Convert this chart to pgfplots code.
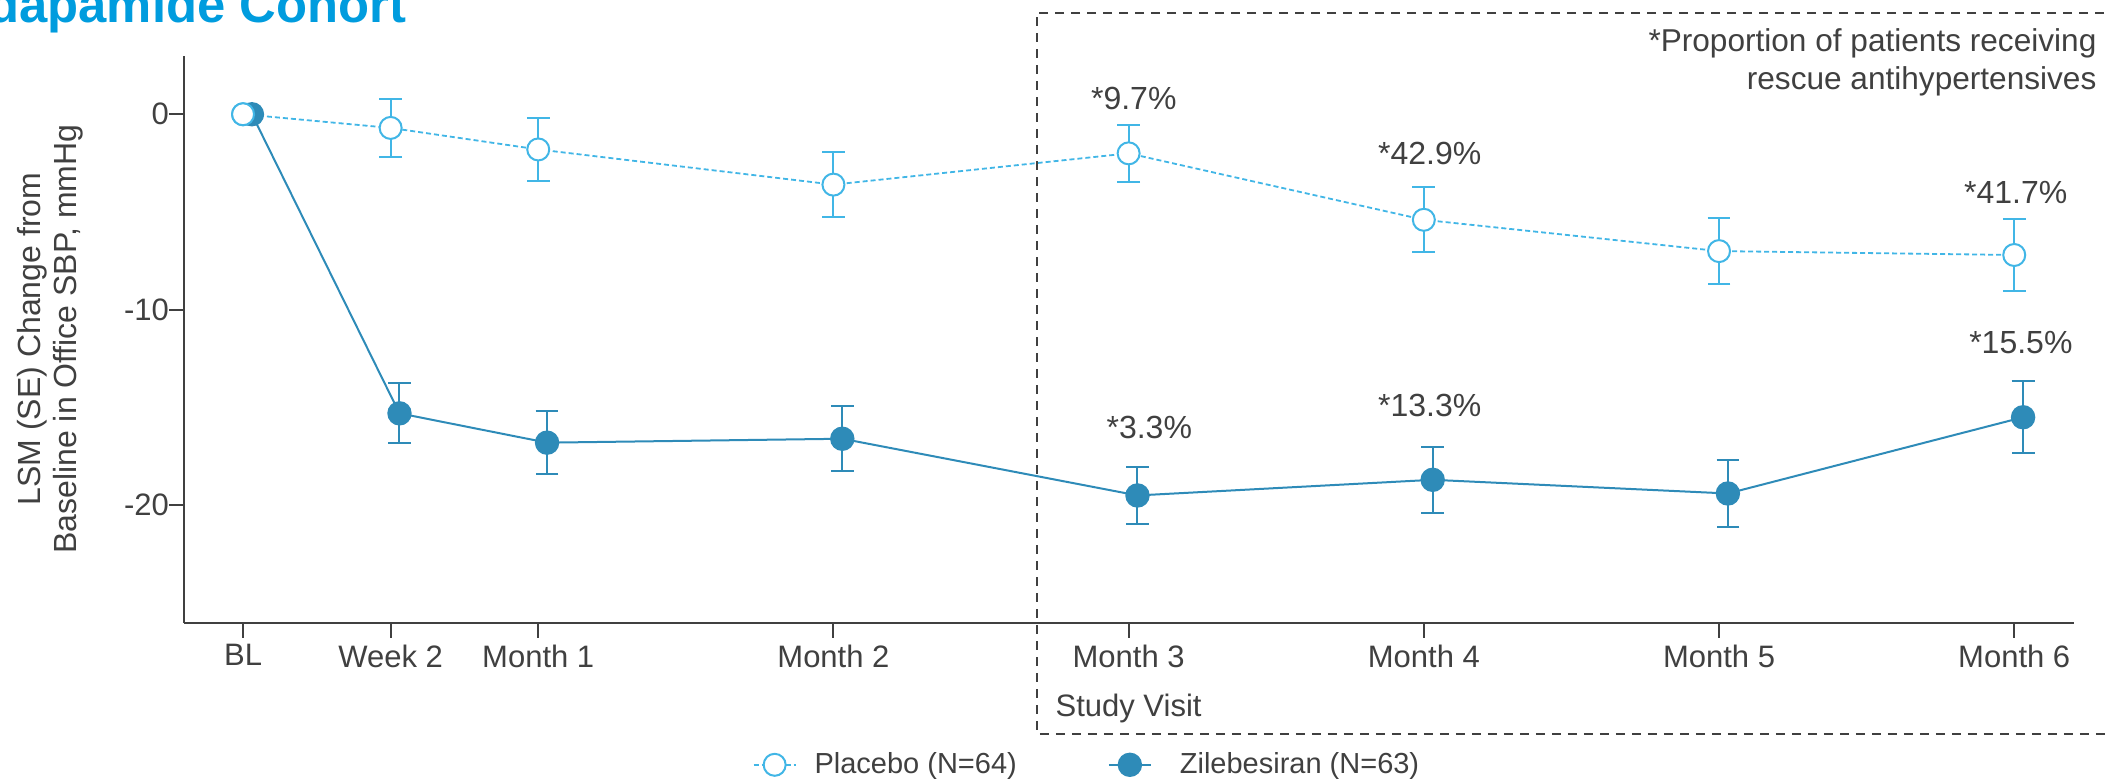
\documentclass[border=0pt]{standalone}
\usepackage{pgfplots}
\pgfplotsset{compat=1.18}
\usepackage{fontspec}
\setmainfont{Liberation Sans}
\definecolor{pbo}{HTML}{41B6E6}
\definecolor{zil}{HTML}{2E8BB8}
\definecolor{ttl}{HTML}{009CDE}
\definecolor{ink}{HTML}{404040}

% LS mean change from baseline (x in weeks), with SE
\pgfplotstableread{
x    y     e
0    0     0
2   -0.7   1.5
4   -1.8   1.6
8   -3.6   1.67
12  -2.0   1.45
16  -5.4   1.67
20  -7.0   1.69
24  -7.2   1.83
}\placebo
\pgfplotstableread{
x     y      e
0.12  0      0
2.12 -15.3   1.54
4.12 -16.8   1.6
8.12 -16.6   1.67
12.12 -19.5  1.45
16.12 -18.7  1.7
20.12 -19.4  1.7
24.12 -15.5  1.84
}\zilebesiran

\begin{document}
\begin{tikzpicture}
\clip (0,0) rectangle (1054pt,391.5pt);
% cohort heading
\node[anchor=base west, inner sep=0pt, text=ttl,
      font=\bfseries\fontsize{25.4}{30}\selectfont] at (-28.6pt,380.3pt) {Indapamide Cohort};
\begin{axis}[
  at={(92pt,80.25pt)}, anchor=south west,
  scale only axis, width=945pt, height=283.45pt,
  xmin=-0.8, xmax=24.81, ymin=-26, ymax=3,
  axis lines*=left,
  axis line style={ink, line width=1pt},
  tick style={ink, line width=1pt},
  tick align=outside, major tick length=7.5pt,
  xtick={0,2,4,8,12,16,20,24},
  xticklabels={BL,Week 2,Month 1,Month 2,Month 3,Month 4,Month 5,Month 6},
  ytick={-20,-10,0}, yticklabels={-20,-10,0},
  ticklabel style={text=ink, font=\fontsize{15.5}{18}\selectfont},
  yticklabel style={xshift=3.5pt},
  ylabel={LSM (SE) Change from\\Baseline in Office SBP, mmHg},
  ylabel style={align=center, text=ink, font=\fontsize{16}{18}\selectfont,
    at={(axis description cs:-0.053,0.5)}, anchor=south, inner sep=0pt},
  clip=false,
  legend style={at={(axis description cs:0.4783,-0.251)}, anchor=center,
    draw=none, fill=none, text=ink, font=\fontsize{14.5}{17}\selectfont,
    /tikz/every odd column/.append style={column sep=7pt},
    /tikz/every even column/.append style={column sep=43.5pt}},
  legend columns=2,
  legend image code/.code={\draw[mark repeat=2,mark phase=2]
    plot coordinates {(0pt,0pt)(10.5pt,0pt)(21pt,0pt)};},
]
\addplot[pbo, line width=0.9pt, dash pattern=on 2.5pt off 1.5pt,
  mark=*, mark size=5.5pt, mark options={solid, fill=white, draw=pbo, line width=1pt},
  error bars/.cd, y dir=both, y explicit,
  error bar style={solid, line width=1pt, pbo},
  error mark options={rotate=90, mark size=5.7pt, line width=1pt, pbo}]
  table[x=x, y=y, y error=e] {\placebo};
\addlegendentry{Placebo (N=64)}
\addplot[zil, line width=1pt,
  mark=*, mark size=5.6pt, mark options={solid, fill=zil, draw=zil},
  error bars/.cd, y dir=both, y explicit,
  error bar style={solid, line width=1pt, zil},
  error mark options={rotate=90, mark size=5.7pt, line width=1pt, zil}]
  table[x=x, y=y, y error=e] {\zilebesiran};
\addlegendentry{\hspace{5pt}Zilebesiran (N=63)}
% open baseline marker sits on top of the filled one
\addplot[forget plot, only marks, mark=*, mark size=5.5pt,
  mark options={fill=white, draw=pbo, line width=1pt}] coordinates {(0,0)};

% share of patients on rescue antihypertensives
\begin{scope}[every node/.style={text=ink, font=\fontsize{16}{18}\selectfont, anchor=base, inner sep=0pt}]
\node at (axis cs:12.07,0.26) {*9.7\%};
\node at (axis cs:16.08,-2.59) {*42.9\%};
\node at (axis cs:24.02,-4.55) {*41.7\%};
\node at (axis cs:12.28,-16.59) {*3.3\%};
\node at (axis cs:16.08,-15.46) {*13.3\%};
\node at (axis cs:24.09,-12.24) {*15.5\%};
\end{scope}
\end{axis}
% follow-up window
\draw[ink, line width=1pt, dash pattern=on 4.5pt off 3.5pt]
  (1060pt,385.2pt) -- (518.3pt,385.2pt) -- (518.3pt,24.5pt) -- (1060pt,24.5pt);
\node[anchor=base east, inner sep=0pt, text=ink, font=\fontsize{15.8}{18}\selectfont]
  at (1048.4pt,365.5pt) {*Proportion of patients receiving};
\node[anchor=base east, inner sep=0pt, text=ink, font=\fontsize{15.8}{18}\selectfont]
  at (1048.4pt,346.5pt) {rescue antihypertensives};
\node[anchor=base west, inner sep=0pt, text=ink, font=\fontsize{15.5}{18}\selectfont]
  at (527.6pt,33.5pt) {Study Visit};
\end{tikzpicture}
\end{document}
